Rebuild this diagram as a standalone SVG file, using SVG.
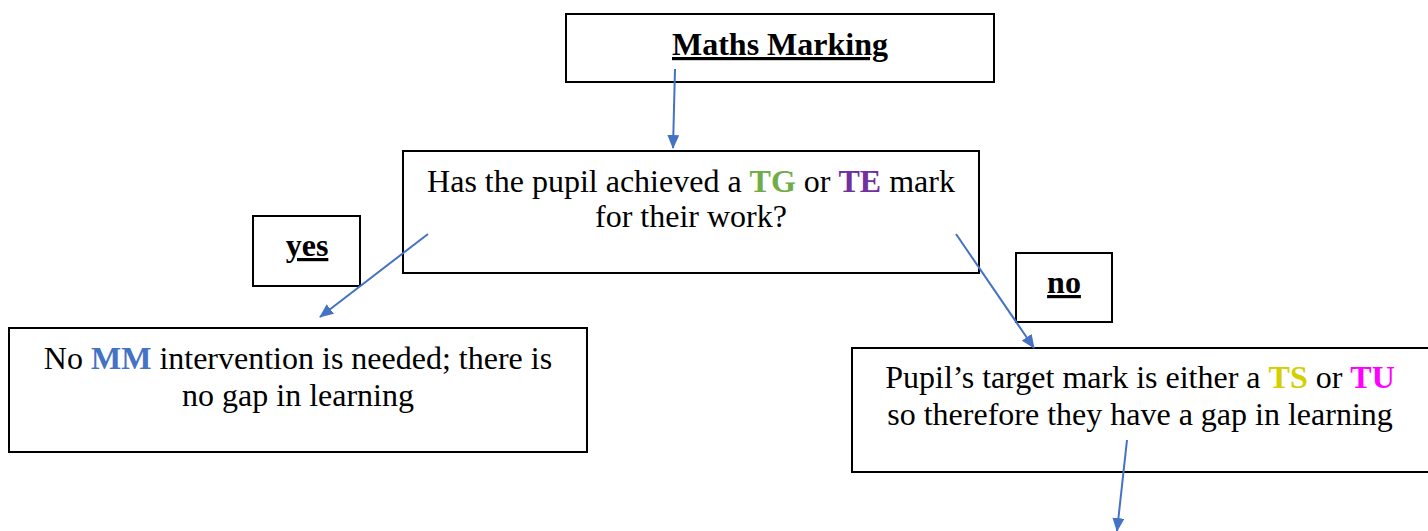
<svg xmlns="http://www.w3.org/2000/svg" width="1428" height="531" viewBox="0 0 1428 531">
<style>
.box{fill:#fff;stroke:#000;stroke-width:2}
.t{font-family:"Liberation Serif","Times New Roman",serif;font-size:32px;fill:#000;text-anchor:middle}
.b{font-weight:bold}
.u{text-decoration:underline}
.c{stroke:#4472C4;stroke-width:2;fill:none;marker-end:url(#ah)}
</style>
<defs>
<marker id="ah" viewBox="0 0 14 12" refX="13" refY="6" markerWidth="14" markerHeight="12" markerUnits="userSpaceOnUse" orient="auto">
<path d="M0,0 L14,6 L0,12 z" fill="#4472C4"/>
</marker>
</defs>
<rect width="1428" height="531" fill="#fff"/>
<g id="n-title"><rect class="box" x="566" y="14" width="428" height="68"/><text class="t b u" x="780" y="55">Maths Marking</text></g>
<g id="n-question"><rect class="box" x="403" y="151" width="576" height="122"/>
<text class="t" x="691" y="192">Has the pupil achieved a <tspan class="b" fill="#70AD47">TG</tspan> or <tspan class="b" fill="#7030A0">TE</tspan> mark</text>
<text class="t" x="691" y="227">for their work?</text></g>
<g id="n-yes"><rect class="box" x="253" y="216" width="107" height="70"/><text class="t b u" x="307" y="256">yes</text></g>
<g id="n-no"><rect class="box" x="1016" y="253" width="96" height="69"/><text class="t b u" x="1064" y="293">no</text></g>
<g id="n-nogap"><rect class="box" x="9" y="328" width="578" height="124"/>
<text class="t" x="298" y="369">No <tspan class="b" fill="#4472C4">MM</tspan> intervention is needed; there is</text>
<text class="t" x="298" y="406">no gap in learning</text></g>
<g id="n-gap"><rect class="box" x="852" y="348" width="580" height="124"/>
<text class="t" x="1140" y="388">Pupil’s target mark is either a <tspan class="b" fill="#D4D000">TS</tspan> or <tspan class="b" fill="#FF00FF">TU</tspan></text>
<text class="t" x="1140" y="425">so therefore they have a gap in learning</text></g>
<g id="connectors">
<line class="c" x1="675" y1="69" x2="673" y2="148"/>
<line class="c" x1="428" y1="234" x2="320" y2="317"/>
<line class="c" x1="956" y1="234" x2="1034" y2="348"/>
<line class="c" x1="1127" y1="440" x2="1117" y2="531"/>
</g>
</svg>
